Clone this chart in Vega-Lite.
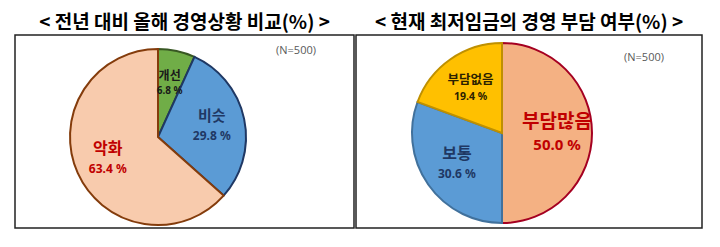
{
  "$schema": "https://vega.github.io/schema/vega-lite/v6.json",
  "background": "white",
  "padding": {"left": 14, "top": 13, "right": 0, "bottom": 0},
  "config": {
    "view": {"stroke": "#222222", "strokeWidth": 1.5},
    "concat": {"spacing": 0},
    "title": {"font": "Noto Sans CJK KR", "fontSize": 19, "fontWeight": "bold", "color": "#000000", "anchor": "middle", "baseline": "bottom", "offset": 2}
  },
  "resolve": {"scale": {"fill": "independent", "stroke": "independent"}},
  "hconcat": [
    {
      "width": 339,
      "height": 193,
      "view": {"stroke": "#222222", "strokeWidth": 1.5},
      "title": "< 전년 대비 올해 경영상황 비교(%) >",
      "layer": [
        {
          "data": {"values": [
            {"cat": "개선", "pct": 6.8, "ord": 1, "lbl": "6.8 %"},
            {"cat": "비슷", "pct": 29.8, "ord": 2, "lbl": "29.8 %"},
            {"cat": "악화", "pct": 63.4, "ord": 3, "lbl": "63.4 %"}
          ]},
          "layer": [
            {
              "mark": {"type": "arc", "outerRadius": 88, "strokeWidth": 2, "x": 143, "y": 102},
              "encoding": {
                "theta": {"field": "pct", "type": "quantitative", "stack": true},
                "order": {"field": "ord", "type": "quantitative"},
                "fill": {"field": "cat", "type": "nominal", "legend": null, "scale": {"domain": ["개선", "비슷", "악화"], "range": ["#70AD47", "#5B9BD5", "#F8CBAD"]}},
                "stroke": {"field": "cat", "type": "nominal", "legend": null, "scale": {"domain": ["개선", "비슷", "악화"], "range": ["#385723", "#1F3864", "#843C0C"]}}
              }
            },
            {
              "mark": {"type": "text", "radius": 55, "baseline": "middle", "font": "Noto Sans CJK KR", "fontWeight": "bold", "x": 143, "y": 102, "dy": {"expr": "datum.cat === '개선' ? -7 : -10"}},
              "encoding": {
                "theta": {"field": "pct", "type": "quantitative", "stack": true},
                "order": {"field": "ord", "type": "quantitative"},
                "text": {"field": "cat"},
                "fill": {"condition": [{"test": "datum.cat === '악화'", "value": "#C00000"}, {"test": "datum.cat === '비슷'", "value": "#1F3864"}], "value": "#1A1A1A"},
                "size": {"condition": [{"test": "datum.cat === '악화'", "value": 16}, {"test": "datum.cat === '비슷'", "value": 15}], "value": 12}
              }
            },
            {
              "mark": {"type": "text", "radius": 55, "baseline": "middle", "font": "Noto Sans", "fontWeight": "bold", "x": 143, "y": 102, "dy": {"expr": "datum.cat === '개선' ? 8 : 10"}},
              "encoding": {
                "theta": {"field": "pct", "type": "quantitative", "stack": true},
                "order": {"field": "ord", "type": "quantitative"},
                "text": {"field": "lbl"},
                "fill": {"condition": [{"test": "datum.cat === '악화'", "value": "#C00000"}, {"test": "datum.cat === '비슷'", "value": "#1F3864"}], "value": "#1A1A1A"},
                "size": {"condition": [{"test": "datum.cat === '개선'", "value": 10}], "value": 12}
              }
            }
          ]
        },
        {
          "data": {"values": [{"note": "(N=500)"}]},
          "mark": {"type": "text", "font": "Open Sans", "fontSize": 11, "color": "#595959", "align": "center", "baseline": "middle", "x": 281, "y": 16},
          "encoding": {"text": {"field": "note"}}
        }
      ]
    },
    {
      "width": 346,
      "height": 193,
      "view": {"stroke": "#222222", "strokeWidth": 1.5},
      "title": "< 현재 최저임금의 경영 부담 여부(%) >",
      "layer": [
        {
          "data": {"values": [
            {"cat": "부담많음", "pct": 50.0, "ord": 1, "lbl": "50.0 %"},
            {"cat": "보통", "pct": 30.6, "ord": 2, "lbl": "30.6 %"},
            {"cat": "부담없음", "pct": 19.4, "ord": 3, "lbl": "19.4 %"}
          ]},
          "layer": [
            {
              "mark": {"type": "arc", "outerRadius": 90, "strokeWidth": 2, "x": 146, "y": 98},
              "encoding": {
                "theta": {"field": "pct", "type": "quantitative", "stack": true},
                "order": {"field": "ord", "type": "quantitative"},
                "fill": {"field": "cat", "type": "nominal", "legend": null, "scale": {"domain": ["부담많음", "보통", "부담없음"], "range": ["#F4B183", "#5B9BD5", "#FFC000"]}},
                "stroke": {"field": "cat", "type": "nominal", "legend": null, "scale": {"domain": ["부담많음", "보통", "부담없음"], "range": ["#A50021", "#41719C", "#BF9000"]}}
              }
            },
            {
              "mark": {"type": "text", "radius": 55, "baseline": "middle", "font": "Noto Sans CJK KR", "fontWeight": "bold", "x": 146, "y": 98, "dy": {"expr": "datum.cat === '부담많음' ? -11 : datum.cat === '보통' ? -10 : -8"}},
              "encoding": {
                "theta": {"field": "pct", "type": "quantitative", "stack": true},
                "order": {"field": "ord", "type": "quantitative"},
                "text": {"field": "cat"},
                "fill": {"condition": [{"test": "datum.cat === '부담많음'", "value": "#C00000"}, {"test": "datum.cat === '보통'", "value": "#1F3864"}], "value": "#2B2100"},
                "size": {"condition": [{"test": "datum.cat === '부담많음'", "value": 19}, {"test": "datum.cat === '보통'", "value": 16}], "value": 12.5}
              }
            },
            {
              "mark": {"type": "text", "radius": 55, "baseline": "middle", "font": "Noto Sans", "fontWeight": "bold", "x": 146, "y": 98, "dy": {"expr": "datum.cat === '부담많음' ? 12 : datum.cat === '보통' ? 10 : 9"}},
              "encoding": {
                "theta": {"field": "pct", "type": "quantitative", "stack": true},
                "order": {"field": "ord", "type": "quantitative"},
                "text": {"field": "lbl"},
                "fill": {"condition": [{"test": "datum.cat === '부담많음'", "value": "#C00000"}, {"test": "datum.cat === '보통'", "value": "#1F3864"}], "value": "#2B2100"},
                "size": {"condition": [{"test": "datum.cat === '부담많음'", "value": 15}, {"test": "datum.cat === '보통'", "value": 12}], "value": 10.5}
              }
            }
          ]
        },
        {
          "data": {"values": [{"note": "(N=500)"}]},
          "mark": {"type": "text", "font": "Open Sans", "fontSize": 11, "color": "#595959", "align": "center", "baseline": "middle", "x": 288, "y": 23},
          "encoding": {"text": {"field": "note"}}
        }
      ]
    }
  ]
}
